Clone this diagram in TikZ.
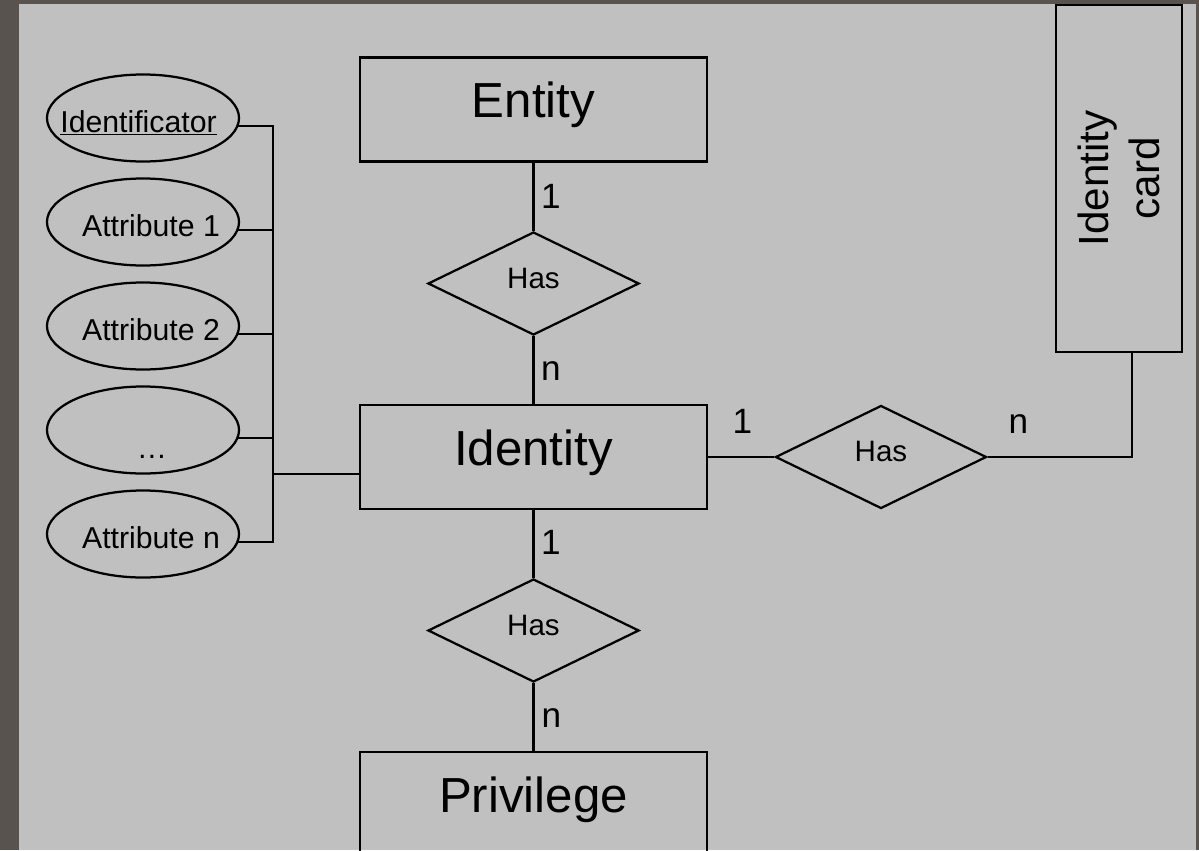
\documentclass[tikz,border=0pt]{standalone}
\usepackage{fontspec}
\setmainfont{Liberation Sans}
\usetikzlibrary{shapes.geometric}
\definecolor{erframe}{RGB}{88,83,78}
\definecolor{erpaper}{RGB}{192,192,192}
\newcommand{\attrlabel}[2][0pt]{\makebox[0pt]{\hspace*{#1}#2}}
\begin{document}
\begin{tikzpicture}
	[x=0.025cm,y=-0.025cm,
	line width=1.6pt,
	every node/.style={inner sep=0pt},
	entitybox/.style={draw,rectangle,minimum width=8.68cm,minimum height=2.6cm,font=\fontsize{35}{42}\selectfont,text height=25pt,text depth=13pt},
	relation/.style={draw,diamond,minimum width=5.275cm,minimum height=2.575cm,font=\fontsize{21}{25}\selectfont,text height=15pt,text depth=8.6pt},
	attribute/.style={draw,ellipse,minimum width=4.8cm,minimum height=2.175cm,font=\fontsize{21.5}{25}\selectfont,text height=20pt,text depth=0pt},
	cardinality/.style={font=\fontsize{25}{30}\selectfont}
	]
	\useasboundingbox (0,0) rectangle (1199,850);
	\clip (0,0) rectangle (1199,850);
	\fill[erframe] (0,0) rectangle (1199,850);
	\fill[erpaper] (19,4) rectangle (1196,850);

	\node[entitybox] (entity) at (533.5,109.5) {Entity};
	\node[entitybox] (identity) at (533.5,457) {Identity};
	\node[entitybox] (privilege) at (533.5,804) {Privilege};
	\node[draw,rectangle,rotate=90,minimum width=8.675cm,minimum height=3.15cm,align=center,font=\fontsize{30}{36}\selectfont] (card) at (1119,178.5) {Identity\\card};

	\node[relation] (hasentity) at (533.5,283.5) {Has};
	\node[relation] (hascard) at (881,457) {Has};
	\node[relation] (hasprivilege) at (533.5,630.5) {Has};

	\node[attribute] (identificator) at (143,118) {\attrlabel[-0.225cm]{\underline{Identificator}}};
	\node[attribute] (attrone) at (143,222) {\attrlabel[0.4cm]{Attribute 1}};
	\node[attribute] (attrtwo) at (143,326) {\attrlabel[0.4cm]{Attribute 2}};
	\node[attribute] (attrdots) at (143,430) {\attrlabel[0.45cm]{\raisebox{-0.35cm}{…}}};
	\node[attribute] (attrn) at (143,534) {\attrlabel[0.4cm]{Attribute n}};

	\node[cardinality] (entityone) at (551,196) {1};
	\node[cardinality] (entityn) at (551,371.5) {n};
	\node[cardinality] (cardone) at (742.5,421) {1};
	\node[cardinality] (cardn) at (1018.5,424.5) {n};
	\node[cardinality] (privilegeone) at (551,542) {1};
	\node[cardinality] (privilegen) at (551.5,718) {n};

	\coordinate (bus) at (273,474);
	\coordinate (cardlink) at (1132,352);

	\draw (entity.south) -- (hasentity.north);
	\draw (hasentity.south) -- (identity.north);
	\draw (identity.south) -- (hasprivilege.north);
	\draw (hasprivilege.south) -- (privilege.north);
	\draw (identity.east) -- (hascard.west);
	\draw (hascard.east) -| (cardlink);
	\draw (identificator.-5.5) -| (attrn.-5.5 -| bus) -- (attrn.-5.5);
	\foreach \a in {attrone,attrtwo,attrdots}
		\draw (\a.-5.5) -- (\a.-5.5 -| bus);
	\draw (bus) -- (bus -| identity.west);
\end{tikzpicture}
\end{document}
